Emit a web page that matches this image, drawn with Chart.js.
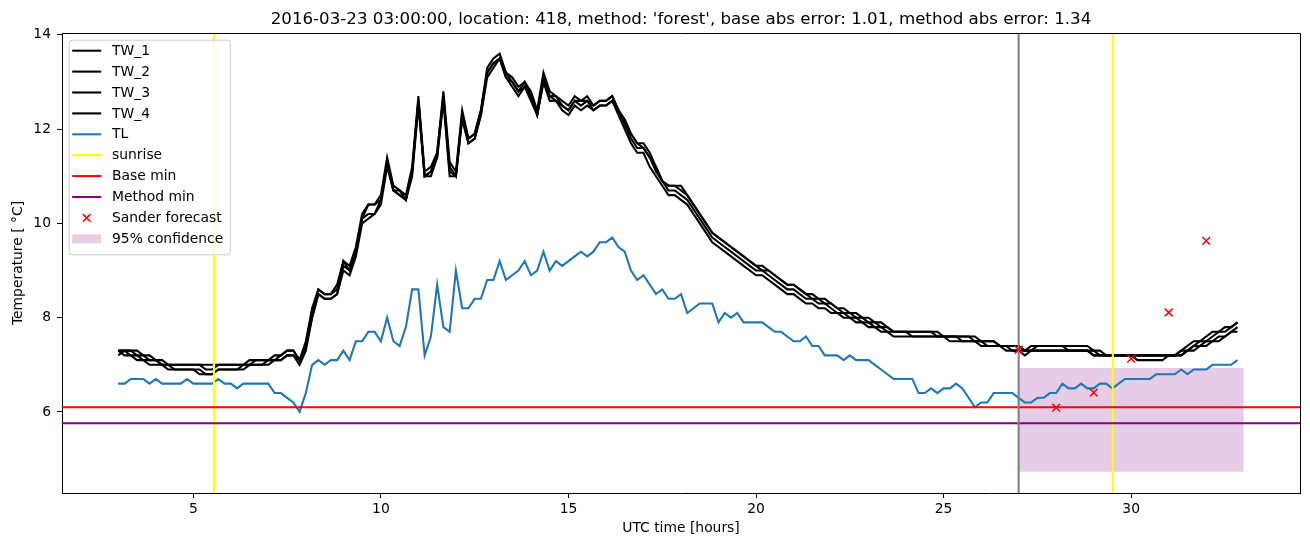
<!DOCTYPE html>
<html>
<head>
<meta charset="utf-8">
<title>TW / TL forecast</title>
<script src="https://cdn.jsdelivr.net/npm/chart.js@4.4.1/dist/chart.umd.min.js"></script>
<style>
  html, body { margin: 0; padding: 0; background: #fff; }
  #wrap { width: 1310px; height: 547px; }
</style>
</head>
<body>
<div id="wrap"><canvas id="chart" width="1310" height="547"></canvas></div>
<script>
// time grid: 10 minute samples starting at 03:00 UTC
const startHour = 3;
const stepHours = 1 / 6;

// road surface temperatures (one row per hour, 6 samples each)
const tw1 = [
  7.3, 7.3, 7.3, 7.3, 7.2, 7.2,
  7.1, 7.1, 7.0, 7.0, 7.0, 7.0,
  7.0, 7.0, 7.0, 7.0, 7.0, 7.0,
  7.0, 7.0, 7.0, 7.0, 7.1, 7.1,
  7.1, 7.1, 7.2, 7.3, 7.3, 7.1,
  7.4, 8.1, 8.6, 8.5, 8.5, 8.7,
  9.2, 9.1, 9.5, 10.2, 10.4, 10.4,
  10.6, 11.4, 10.8, 10.7, 10.6, 11.2,
  12.7, 11.1, 11.2, 11.5, 12.8, 11.3,
  11.1, 12.4, 11.8, 11.9, 12.4, 13.3,
  13.5, 13.6, 13.2, 13.1, 12.9, 13.0,
  12.8, 12.4, 13.2, 12.8, 12.7, 12.6,
  12.5, 12.7, 12.6, 12.7, 12.5, 12.6,
  12.6, 12.7, 12.4, 12.2, 11.9, 11.7,
  11.7, 11.5, 11.2, 10.9, 10.8, 10.8,
  10.8, 10.6, 10.4, 10.2, 10.0, 9.8,
  9.7, 9.6, 9.5, 9.4, 9.3, 9.2,
  9.1, 9.1, 9.0, 8.9, 8.8, 8.7,
  8.7, 8.6, 8.5, 8.5, 8.4, 8.4,
  8.3, 8.2, 8.2, 8.1, 8.1, 8.0,
  8.0, 7.9, 7.9, 7.8, 7.7, 7.7,
  7.7, 7.7, 7.7, 7.7, 7.7, 7.7,
  7.6, 7.6, 7.6, 7.6, 7.6, 7.6,
  7.5, 7.5, 7.5, 7.4, 7.4, 7.4,
  7.4, 7.3, 7.4, 7.4, 7.4, 7.4,
  7.4, 7.4, 7.4, 7.4, 7.4, 7.4,
  7.3, 7.3, 7.2, 7.2, 7.2, 7.2,
  7.2, 7.2, 7.2, 7.2, 7.2, 7.2,
  7.2, 7.2, 7.3, 7.4, 7.5, 7.5,
  7.6, 7.7, 7.7, 7.8, 7.8, 7.9
];
const tw2 = [
  7.3, 7.3, 7.3, 7.2, 7.2, 7.1,
  7.1, 7.0, 7.0, 7.0, 7.0, 7.0,
  7.0, 7.0, 6.9, 6.9, 7.0, 7.0,
  7.0, 7.0, 7.0, 7.1, 7.1, 7.1,
  7.1, 7.2, 7.2, 7.3, 7.3, 7.1,
  7.5, 8.2, 8.6, 8.5, 8.5, 8.6,
  9.2, 9.0, 9.4, 10.1, 10.4, 10.4,
  10.5, 11.3, 10.7, 10.7, 10.5, 11.1,
  12.6, 11.0, 11.1, 11.5, 12.7, 11.2,
  11.0, 12.3, 11.8, 11.9, 12.4, 13.2,
  13.4, 13.5, 13.2, 13.0, 12.8, 13.0,
  12.7, 12.3, 13.1, 12.7, 12.7, 12.5,
  12.4, 12.6, 12.6, 12.6, 12.5, 12.6,
  12.6, 12.7, 12.4, 12.2, 11.9, 11.7,
  11.6, 11.4, 11.2, 10.9, 10.8, 10.8,
  10.7, 10.6, 10.4, 10.2, 10.0, 9.8,
  9.7, 9.6, 9.5, 9.4, 9.3, 9.2,
  9.1, 9.0, 9.0, 8.9, 8.8, 8.7,
  8.7, 8.6, 8.5, 8.4, 8.4, 8.3,
  8.3, 8.2, 8.1, 8.1, 8.0, 8.0,
  7.9, 7.9, 7.8, 7.8, 7.7, 7.7,
  7.7, 7.7, 7.7, 7.7, 7.7, 7.6,
  7.6, 7.6, 7.6, 7.6, 7.6, 7.5,
  7.5, 7.5, 7.5, 7.4, 7.4, 7.4,
  7.4, 7.3, 7.3, 7.4, 7.4, 7.4,
  7.4, 7.4, 7.3, 7.3, 7.3, 7.3,
  7.3, 7.2, 7.2, 7.2, 7.2, 7.2,
  7.2, 7.2, 7.2, 7.2, 7.2, 7.2,
  7.2, 7.2, 7.3, 7.3, 7.4, 7.5,
  7.5, 7.6, 7.7, 7.7, 7.8, 7.9
];
const tw3 = [
  7.2, 7.3, 7.2, 7.2, 7.1, 7.1,
  7.1, 7.0, 7.0, 6.9, 6.9, 6.9,
  6.9, 6.9, 6.8, 6.8, 6.9, 6.9,
  6.9, 6.9, 7.0, 7.0, 7.0, 7.0,
  7.1, 7.1, 7.1, 7.2, 7.2, 7.1,
  7.4, 8.0, 8.5, 8.4, 8.4, 8.5,
  9.1, 9.0, 9.4, 10.1, 10.2, 10.2,
  10.5, 11.3, 10.7, 10.6, 10.5, 11.1,
  12.6, 11.0, 11.1, 11.4, 12.7, 11.1,
  11.0, 12.3, 11.7, 11.8, 12.3, 13.2,
  13.4, 13.5, 13.1, 13.0, 12.8, 12.9,
  12.7, 12.3, 13.0, 12.7, 12.6, 12.5,
  12.4, 12.6, 12.5, 12.6, 12.4, 12.5,
  12.5, 12.6, 12.4, 12.1, 11.8, 11.6,
  11.6, 11.4, 11.1, 10.9, 10.7, 10.7,
  10.6, 10.5, 10.3, 10.1, 9.9, 9.7,
  9.6, 9.5, 9.4, 9.3, 9.2, 9.1,
  9.0, 9.0, 8.9, 8.8, 8.7, 8.6,
  8.6, 8.5, 8.4, 8.4, 8.3, 8.3,
  8.2, 8.1, 8.1, 8.0, 8.0, 7.9,
  7.9, 7.8, 7.8, 7.7, 7.7, 7.7,
  7.7, 7.6, 7.6, 7.6, 7.6, 7.6,
  7.6, 7.6, 7.6, 7.5, 7.5, 7.5,
  7.5, 7.4, 7.4, 7.4, 7.4, 7.3,
  7.3, 7.3, 7.3, 7.3, 7.3, 7.3,
  7.3, 7.3, 7.3, 7.3, 7.3, 7.3,
  7.2, 7.2, 7.2, 7.2, 7.2, 7.2,
  7.2, 7.1, 7.1, 7.1, 7.1, 7.1,
  7.2, 7.2, 7.2, 7.3, 7.4, 7.4,
  7.5, 7.5, 7.6, 7.6, 7.7, 7.8
];
const tw4 = [
  7.3, 7.2, 7.2, 7.1, 7.1, 7.0,
  7.0, 7.0, 6.9, 6.9, 6.9, 6.9,
  6.9, 6.8, 6.8, 6.8, 6.9, 6.9,
  6.9, 6.9, 6.9, 7.0, 7.0, 7.0,
  7.0, 7.1, 7.1, 7.2, 7.2, 7.0,
  7.3, 8.0, 8.5, 8.4, 8.4, 8.5,
  9.0, 8.9, 9.3, 10.0, 10.1, 10.2,
  10.4, 11.2, 10.7, 10.6, 10.5, 11.0,
  12.5, 11.0, 11.0, 11.4, 12.6, 11.0,
  11.0, 12.2, 11.7, 11.8, 12.3, 13.1,
  13.3, 13.5, 13.1, 12.9, 12.7, 12.9,
  12.6, 12.3, 13.0, 12.6, 12.6, 12.4,
  12.3, 12.5, 12.4, 12.5, 12.4, 12.5,
  12.5, 12.6, 12.3, 12.0, 11.7, 11.5,
  11.5, 11.2, 11.0, 10.8, 10.6, 10.6,
  10.5, 10.4, 10.2, 10.0, 9.8, 9.6,
  9.5, 9.4, 9.3, 9.2, 9.1, 9.0,
  8.9, 8.9, 8.8, 8.7, 8.6, 8.5,
  8.5, 8.4, 8.3, 8.3, 8.2, 8.2,
  8.1, 8.1, 8.0, 8.0, 7.9, 7.9,
  7.8, 7.8, 7.7, 7.7, 7.6, 7.6,
  7.6, 7.6, 7.6, 7.6, 7.6, 7.6,
  7.6, 7.5, 7.5, 7.5, 7.5, 7.5,
  7.4, 7.4, 7.4, 7.4, 7.3, 7.3,
  7.3, 7.2, 7.3, 7.3, 7.3, 7.3,
  7.3, 7.3, 7.3, 7.3, 7.3, 7.3,
  7.2, 7.2, 7.2, 7.2, 7.2, 7.2,
  7.2, 7.2, 7.2, 7.2, 7.2, 7.2,
  7.2, 7.2, 7.2, 7.3, 7.3, 7.4,
  7.4, 7.5, 7.5, 7.6, 7.7, 7.7
];

// air temperature
const tl = [
  6.6, 6.6, 6.7, 6.7, 6.7, 6.6,
  6.7, 6.6, 6.6, 6.6, 6.6, 6.7,
  6.6, 6.6, 6.6, 6.6, 6.7, 6.6,
  6.6, 6.5, 6.6, 6.6, 6.6, 6.6,
  6.6, 6.4, 6.4, 6.3, 6.2, 6.0,
  6.4, 7.0, 7.1, 7.0, 7.1, 7.1,
  7.3, 7.1, 7.5, 7.5, 7.7, 7.7,
  7.5, 8.0, 7.5, 7.4, 7.8, 8.6,
  8.6, 7.2, 7.6, 8.7, 7.8, 7.7,
  9.0, 8.2, 8.2, 8.4, 8.4, 8.8,
  8.8, 9.2, 8.8, 8.9, 9.0, 9.2,
  8.9, 9.0, 9.4, 9.0, 9.2, 9.1,
  9.2, 9.3, 9.4, 9.3, 9.4, 9.6,
  9.6, 9.7, 9.5, 9.4, 9.0, 8.8,
  8.9, 8.7, 8.5, 8.6, 8.4, 8.4,
  8.5, 8.1, 8.2, 8.3, 8.3, 8.3,
  7.9, 8.1, 8.0, 8.1, 7.9, 7.9,
  7.9, 7.9, 7.8, 7.7, 7.7, 7.6,
  7.5, 7.5, 7.6, 7.4, 7.4, 7.2,
  7.2, 7.2, 7.1, 7.2, 7.1, 7.1,
  7.1, 7.0, 6.9, 6.8, 6.7, 6.7,
  6.7, 6.7, 6.4, 6.4, 6.5, 6.4,
  6.5, 6.5, 6.6, 6.5, 6.3, 6.1,
  6.2, 6.2, 6.4, 6.4, 6.4, 6.4,
  6.3, 6.2, 6.2, 6.3, 6.3, 6.4,
  6.4, 6.6, 6.5, 6.5, 6.6, 6.5,
  6.5, 6.6, 6.6, 6.5, 6.6, 6.7,
  6.7, 6.7, 6.7, 6.7, 6.8, 6.8,
  6.8, 6.8, 6.9, 6.8, 6.9, 6.9,
  6.9, 7.0, 7.0, 7.0, 7.0, 7.1
];

const sunriseHours = [5.55, 29.51];
const baseMin = 6.1;
const methodMin = 5.76;
const issueHour = 27;

const forecastHours = [27, 28, 29, 30, 31, 32];
const forecastTemps = [7.32, 6.09, 6.41, 7.13, 8.11, 9.63];

const confStart = 27;
const confEnd = 33;
const confLow = 4.73;
const confHigh = 6.93;

const xTicks = [5, 10, 15, 20, 25, 30];
const yTicks = [6, 8, 10, 12, 14];

const titleText = "2016-03-23 03:00:00, location: 418, method: 'forest', base abs error: 1.01, method abs error: 1.34";

const FONT = '"DejaVu Sans", "Liberation Sans", sans-serif';
const LW = 2.08;
const xMin = 1.5, xMax = 34.5, yMin = 4.28, yMax = 14.04;

function toPoints(values) {
  return values.map((v, i) => ({ x: startHour + i * stepHours, y: v }));
}

function vline(xs) {
  const pts = [];
  xs.forEach((x, i) => {
    if (i > 0) pts.push({ x: x, y: null });
    pts.push({ x: x, y: 0 }, { x: x, y: 20 });
  });
  return pts;
}

function lineSet(label, values, color, order) {
  return {
    label: label, data: values, borderColor: color, backgroundColor: color,
    borderWidth: LW, pointRadius: 0, fill: false, tension: 0, order: order,
    legendKind: 'line'
  };
}

const datasets = [
  lineSet('TW_1', toPoints(tw1), '#000000', 6),
  lineSet('TW_2', toPoints(tw2), '#000000', 6),
  lineSet('TW_3', toPoints(tw3), '#000000', 6),
  lineSet('TW_4', toPoints(tw4), '#000000', 6),
  lineSet('TL', toPoints(tl), '#1f77b4', 5),
  lineSet('sunrise', vline(sunriseHours), '#ffff00', 4),
  lineSet('Base min', [{ x: 0, y: baseMin }, { x: 40, y: baseMin }], '#ff0000', 3),
  lineSet('Method min', [{ x: 0, y: methodMin }, { x: 40, y: methodMin }], '#800080', 3),
  {
    label: 'Sander forecast',
    data: forecastHours.map((h, i) => ({ x: h, y: forecastTemps[i] })),
    showLine: false, pointStyle: 'crossRot', pointRadius: 5.5,
    borderColor: '#ff0000', backgroundColor: '#ff0000', pointBorderWidth: 1.5,
    order: 1, legendKind: 'cross'
  },
  {
    label: '95% confidence',
    data: [{ x: confStart, y: confHigh }, { x: confEnd, y: confHigh }],
    borderWidth: 0, pointRadius: 0, backgroundColor: 'rgba(128,0,128,0.2)',
    fill: { value: confLow }, order: 9, legendKind: 'patch'
  },
  {
    label: '', data: vline([issueHour]), borderColor: '#808080',
    borderWidth: LW, pointRadius: 0, fill: false, order: 2
  }
];

// title, top/right spines and the in-plot legend
const decorations = {
  id: 'decorations',
  afterDraw(chart) {
    const ctx = chart.ctx;
    const a = chart.chartArea;
    ctx.save();

    ctx.strokeStyle = '#000';
    ctx.lineWidth = 1;
    ctx.beginPath();
    ctx.moveTo(Math.round(a.left) + 0.5, Math.round(a.top) + 0.5);
    ctx.lineTo(Math.round(a.right) + 0.5, Math.round(a.top) + 0.5);
    ctx.lineTo(Math.round(a.right) + 0.5, Math.round(a.bottom) + 0.5);
    ctx.stroke();

    ctx.fillStyle = '#000';
    ctx.font = '16.67px ' + FONT;
    ctx.textAlign = 'center';
    ctx.textBaseline = 'alphabetic';
    ctx.fillText(titleText, (a.left + a.right) / 2, a.top - 9);

    const items = chart.data.datasets.filter(d => d.label);
    ctx.font = '13.89px ' + FONT;
    const textW = Math.max(...items.map(d => ctx.measureText(d.label).width));
    const bx = a.left + 6.7, by = a.top + 6.7;
    const rowH = 20.9;
    const bw = 43.3 + textW + 6.6;
    const bh = 22 + rowH * (items.length - 1) + 4.5;

    ctx.beginPath();
    if (ctx.roundRect) ctx.roundRect(bx + 0.5, by + 0.5, bw, bh, 3);
    else ctx.rect(bx + 0.5, by + 0.5, bw, bh);
    ctx.fillStyle = 'rgba(255,255,255,0.8)';
    ctx.fill();
    ctx.strokeStyle = '#cccccc';
    ctx.lineWidth = 1;
    ctx.stroke();

    ctx.textAlign = 'left';
    ctx.textBaseline = 'middle';
    items.forEach((d, i) => {
      const cy = by + 11 + i * rowH;
      const x1 = bx + 3.5, x2 = bx + 32.5;
      if (d.legendKind === 'line') {
        ctx.strokeStyle = d.borderColor;
        ctx.lineWidth = LW;
        ctx.beginPath();
        ctx.moveTo(x1, cy);
        ctx.lineTo(x2, cy);
        ctx.stroke();
      } else if (d.legendKind === 'cross') {
        const cx = (x1 + x2) / 2, r = 3.8;
        ctx.strokeStyle = d.borderColor;
        ctx.lineWidth = 1.5;
        ctx.beginPath();
        ctx.moveTo(cx - r, cy - r); ctx.lineTo(cx + r, cy + r);
        ctx.moveTo(cx - r, cy + r); ctx.lineTo(cx + r, cy - r);
        ctx.stroke();
      } else {
        ctx.fillStyle = d.backgroundColor;
        ctx.fillRect(x1, cy - 4.5, x2 - x1, 9);
      }
      ctx.fillStyle = '#000';
      ctx.fillText(d.label, bx + 43.3, cy + 0.5);
    });
    ctx.restore();
  }
};

const tickFont = { family: FONT, size: 13.89 };

new Chart(document.getElementById('chart'), {
  type: 'line',
  data: { datasets: datasets },
  plugins: [decorations],
  options: {
    responsive: false,
    animation: false,
    devicePixelRatio: 1,
    events: [],
    layout: { padding: { top: 33, right: 10, left: 0, bottom: 0 } },
    plugins: { legend: { display: false }, tooltip: { enabled: false }, title: { display: false } },
    scales: {
      x: {
        type: 'linear', min: xMin, max: xMax,
        afterBuildTicks: s => { s.ticks = xTicks.map(v => ({ value: v })); },
        afterFit: s => { s.height = 54; },
        grid: { drawOnChartArea: false, drawTicks: true, tickLength: 5, color: '#000' },
        border: { display: true, color: '#000', width: 1 },
        ticks: { font: tickFont, color: '#000', padding: 3, maxRotation: 0 },
        title: { display: true, text: 'UTC time [hours]', font: tickFont, color: '#000', padding: { top: 0, bottom: 10 } }
      },
      y: {
        type: 'linear', min: yMin, max: yMax,
        afterBuildTicks: s => { s.ticks = yTicks.map(v => ({ value: v })); },
        afterFit: s => { s.width = 62; },
        grid: { drawOnChartArea: false, drawTicks: true, tickLength: 5, color: '#000' },
        border: { display: true, color: '#000', width: 1 },
        ticks: { font: tickFont, color: '#000', padding: 6 },
        title: { display: true, text: 'Temperature [ \u00b0C]', font: tickFont, color: '#000', padding: { top: 10, bottom: 0 } }
      }
    }
  }
});
</script>
</body>
</html>
